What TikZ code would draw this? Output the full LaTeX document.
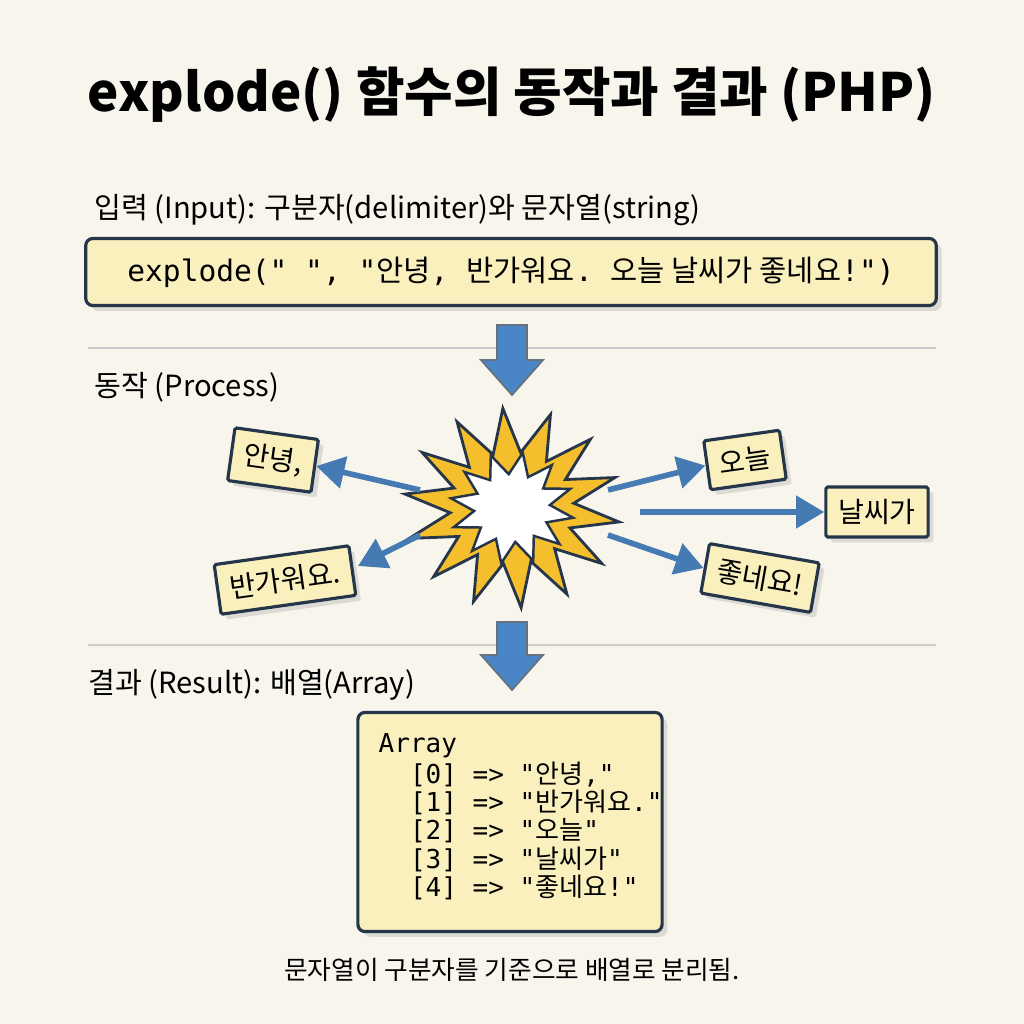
\documentclass[tikz,border=0pt]{standalone}
\usepackage{fontspec}
\setmainfont{Noto Sans CJK KR}
\newfontfamily\krmono{Noto Sans CJK KR}
\setmonofont{DejaVu Sans Mono}
\newcommand{\kr}[1]{{\krmono #1}}
\usetikzlibrary{arrows.meta,shadows}
\definecolor{bg}{HTML}{F8F6EC}
\definecolor{boxfill}{HTML}{FAF0BE}
\definecolor{navy}{HTML}{26364A}
\definecolor{arrblue}{HTML}{4A86C5}
\definecolor{stary}{HTML}{F4BE2C}
\tikzset{
  box/.style={draw=navy,line width=0.9pt,fill=boxfill,rounded corners=2pt,drop shadow={shadow xshift=1.5pt,shadow yshift=-1.5pt,fill=black!25}},
  word/.style={box,rounded corners=0.5pt,inner sep=3.5pt,font=\fontsize{8}{9}\selectfont},
  sect/.style={anchor=west,font=\fontsize{8.3}{10}\selectfont},
  bigarrow/.style={draw=navy!70,line width=0.5pt,fill=arrblue},
  thinarrow/.style={draw=arrblue!85!navy,line width=1.6pt,-{Triangle[length=8pt,width=9pt]}},
  sep/.style={draw=gray!40,line width=0.6pt}
}
\begin{document}
\begin{tikzpicture}[x=0.01cm,y=-0.01cm]
\fill[bg] (0,0) rectangle (1024,1024);
\useasboundingbox (0,0) rectangle (1024,1024);
\node[font=\fontsize{15}{18}\selectfont\bfseries] (title) at (512,95) {explode() 함수의 동작과 결과 (PHP)};
\node[sect] (sin) at (82,210) {입력 (Input): 구분자(delimiter)와 문자열(string)};
\node[box,minimum width=8.5cm,minimum height=0.67cm] (inbox) at (511,272) {\ttfamily\fontsize{8.4}{10}\selectfont explode(" ", "\kr{안녕}, \kr{반가워요}. \kr{오늘 날씨가 좋네요}!")};
\draw[sep] (88,348) -- (936,348);
\draw[sep] (88,645) -- (936,645);
\filldraw[bigarrow] (497,325) -- (527,325) -- (527,360) -- (543,360) -- (512,395) -- (481,360) -- (497,360) -- cycle;
\filldraw[bigarrow] (497,622) -- (527,622) -- (527,655) -- (543,655) -- (512,690) -- (481,655) -- (497,655) -- cycle;
\node[sect] (sproc) at (82,387) {동작 (Process)};
\filldraw[draw=navy,line width=0.8pt,fill=stary]
  plot[samples at={0,...,27},smooth cycle,tension=0] ({512+(mod(\x,2)==0?108:62)*cos(\x*360/28+8)},{508+(mod(\x,2)==0?(100):(56))*sin(\x*360/28+8)}) ;
\filldraw[draw=navy,line width=0.7pt,fill=white]
  plot[samples at={0,...,23},smooth cycle,tension=0] ({512+(mod(\x,2)==0?62:38)*cos(\x*360/24+10)},{508+(mod(\x,2)==0?56:34)*sin(\x*360/24+10)});
\node[word,rotate=-8] (w1) at (273,460) {안녕,};
\node[word,rotate=8] (w2) at (285,580) {반가워요.};
\node[word,rotate=8] (w3) at (745,460) {오늘};
\node[word] (w4) at (877,512) {날씨가};
\node[word,rotate=-10] (w5) at (760,578) {좋네요!};
\coordinate (s1) at (420,490);\coordinate (s2) at (420,535);
\coordinate (s3) at (608,490);\coordinate (s4) at (640,512);\coordinate (s5) at (608,535);
\coordinate (t2) at (358,566);
\draw[thinarrow] (s1) -- (w1.east);
\draw[thinarrow] (s2) -- (t2);
\draw[thinarrow] (s3) -- (w3.west);
\draw[thinarrow] (s4) -- (w4.west);
\draw[thinarrow] (s5) -- (w5.west);
\node[sect] (sres) at (76,685) {결과 (Result): 배열(Array)};
\node[box,minimum width=3.04cm,minimum height=2.19cm] (rbox) at (510,822) {};
\node[anchor=north west,align=left,inner sep=0pt,font=\ttfamily\fontsize{7.4}{6.85}\selectfont] (rtxt) at (378,733) {Array\\
\ \ [0] => "\kr{안녕},"\\
\ \ [1] => "\kr{반가워요}."\\
\ \ [2] => "\kr{오늘}"\\
\ \ [3] => "\kr{날씨가}"\\
\ \ [4] => "\kr{좋네요}!"};
\node[font=\fontsize{7.3}{9}\selectfont] (cap) at (512,970) {문자열이 구분자를 기준으로 배열로 분리됨.};
\end{tikzpicture}
\end{document}
